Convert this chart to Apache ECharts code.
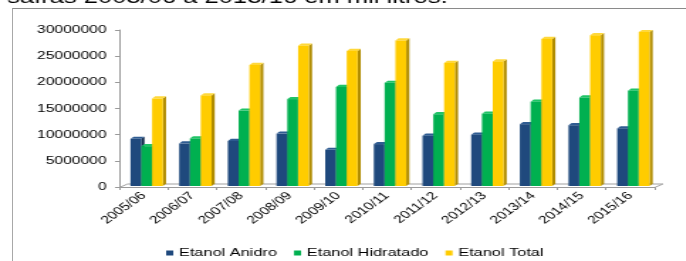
<!DOCTYPE html>
<html>
<head>
<meta charset="utf-8">
<script src="https://cdn.jsdelivr.net/npm/echarts@6/dist/echarts.min.js"></script>
<style>
  html, body { margin: 0; padding: 0; background: #fff; overflow: hidden; }
  #frame { position: absolute; left: 12px; top: 8px; width: 700px; height: 300px;
           border-left: 1px solid #a8a8a8; border-top: 1px solid #8a8a8a; }
  #chart { position: absolute; left: 0; top: 0; width: 483px; height: 261px;
           transform: scaleX(1.42); transform-origin: 0 0; }
</style>
</head>
<body>
<div id="frame"></div>
<div id="chart"></div>
<script>
const categories = ['2005/06','2006/07','2007/08','2008/09','2009/10','2010/11','2011/12','2012/13','2013/14','2014/15','2015/16'];
const anidro    = [9200000, 8300000, 8800000, 10200000, 7100000, 8200000, 9800000, 10000000, 12000000, 11800000, 11200000];
const hidratado = [7800000, 9300000, 14600000, 16800000, 19100000, 19900000, 13900000, 14000000, 16300000, 17100000, 18400000];
const total     = [16900000, 17500000, 23300000, 27000000, 26000000, 28000000, 23700000, 24000000, 28300000, 29000000, 29600000];
const yTicks    = [0, 5000000, 10000000, 15000000, 20000000, 25000000, 30000000];
const seriesNames = ['Etanol Anidro', 'Etanol Hidratado', 'Etanol Total'];

const palette = [
  { front: '#1F497D', side: '#10294A', top: '#2F5C92' },
  { front: '#00B050', side: '#007A37', top: '#1FC466' },
  { front: '#FFCC00', side: '#B08C00', top: '#FFD83A' }
];
const FONT = 'Liberation Sans, Arial, sans-serif';

function make3D(k) {
  return function (params, api) {
    const i = api.value(0);
    const v = api.value(1);
    const base = api.coord([i, 0]);
    const top = api.coord([i, v]);
    const cw = api.size([1, 0])[0];
    const w = cw * 0.222;
    const x = base[0] - cw * 0.27 + k * w;
    const dx = cw * 0.065;
    const dy = 2.2;
    const yb = base[1] - 1;
    const yt = top[1];
    const c = palette[k];
    return {
      type: 'group',
      children: [
        { type: 'polygon', shape: { points: [[x + w, yt], [x + w + dx, yt - dy], [x + w + dx, yb - dy], [x + w, yb]] },
          style: { fill: c.side } },
        { type: 'polygon', shape: { points: [[x, yt], [x + dx, yt - dy], [x + w + dx, yt - dy], [x + w, yt]] },
          style: { fill: c.top } },
        { type: 'rect', shape: { x: x, y: yt, width: w, height: yb - yt },
          style: { fill: c.front } }
      ]
    };
  };
}

function renderFloor(params, api) {
  const first = api.coord([0, 0]);
  const last = api.coord([categories.length - 1, 0]);
  const cw = api.size([1, 0])[0];
  const xL = first[0] - cw / 2;
  const xR = last[0] + cw / 2;
  const y0 = first[1];
  const dxF = cw * 0.17;
  return {
    type: 'polyline',
    shape: { points: [[xL, y0 + 0.5], [xL + dxF, y0 - 3], [xR + dxF, y0 - 3], [xR, y0 + 0.5]] },
    style: { stroke: '#a0a0a0', lineWidth: 1, fill: null }
  };
}

const dataSets = [anidro, hidratado, total];
const chart = echarts.init(document.getElementById('chart'), null, { renderer: 'canvas' });
const series = [{
  name: 'floor', type: 'custom', renderItem: renderFloor, silent: true, z: 1,
  encode: { x: 0, y: 1 }, data: [[0, 0]]
}].concat(seriesNames.map(function (name, k) {
  return {
    name: name,
    type: 'custom',
    renderItem: make3D(k),
    z: 2,
    itemStyle: { color: palette[k].front },
    encode: { x: 0, y: 1 },
    data: dataSets[k].map(function (v, i) { return [i, v]; })
  };
}));

chart.setOption({
  animation: false,
  backgroundColor: 'transparent',
  title: {
    text: 'safras 2005/06 a 2015/16 em mil litros.',
    left: 5, top: -11, padding: 0,
    textStyle: { fontFamily: FONT, fontSize: 18, fontWeight: 'normal', color: '#000', lineHeight: 18 }
  },
  legend: {
    data: seriesNames,
    left: 117, top: 247, padding: 0,
    icon: 'rect', itemWidth: 5, itemHeight: 5, itemGap: 12,
    textStyle: { fontFamily: FONT, fontSize: 11.5, color: '#000', padding: [0, 0, 0, -1] }
  },
  grid: { left: 84, right: 22, top: 30, bottom: 74, containLabel: false },
  xAxis: {
    type: 'category',
    data: categories,
    boundaryGap: true,
    axisLine: { lineStyle: { color: '#9a9a9a', width: 1 } },
    axisTick: { show: true, length: 3, lineStyle: { color: '#9a9a9a' } },
    axisLabel: { rotate: 45, margin: 7, fontFamily: FONT, fontSize: 11, color: '#000' }
  },
  yAxis: {
    type: 'value',
    min: yTicks[0], max: yTicks[yTicks.length - 1], interval: yTicks[1] - yTicks[0],
    splitLine: { show: false },
    axisLine: { show: true, lineStyle: { color: '#9a9a9a', width: 1 } },
    axisTick: { show: true, length: 3, lineStyle: { color: '#9a9a9a' } },
    axisLabel: { margin: 9, fontFamily: FONT, fontSize: 11, color: '#000',
                 formatter: function (v) { return String(v); } }
  },
  series: series
});
</script>
</body>
</html>
